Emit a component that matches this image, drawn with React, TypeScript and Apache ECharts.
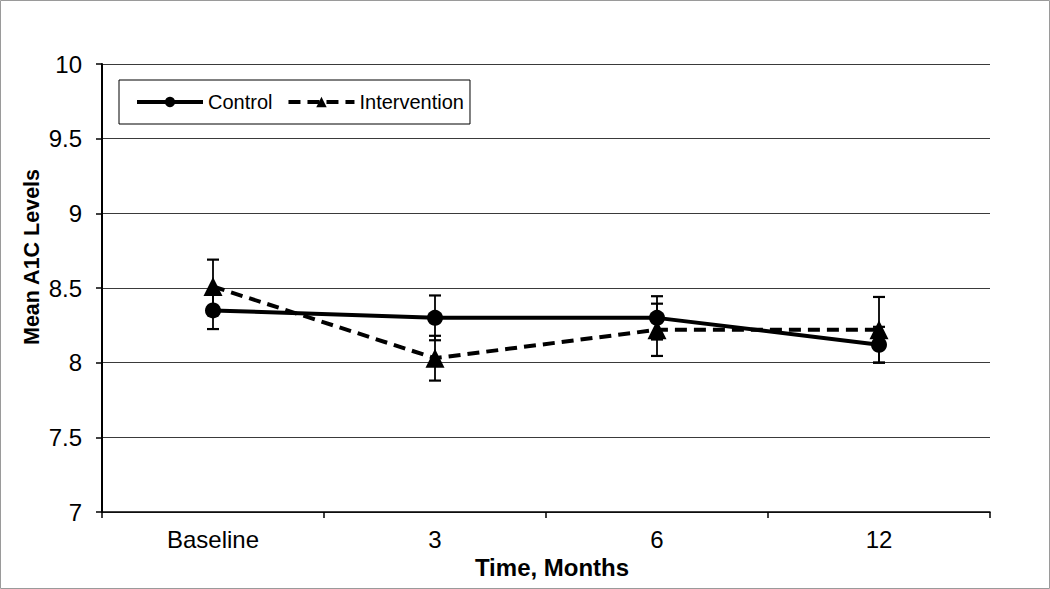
import React, { useEffect, useRef } from "react";
import * as echarts from "echarts";

const categories = ["Baseline", "3", "6", "12"];
const controlMeans = [8.35, 8.3, 8.3, 8.12];
const controlErr = [0.125, 0.15, 0.145, 0.12];
const interventionMeans = [8.51, 8.03, 8.22, 8.22];
const interventionErr = [0.18, 0.15, 0.175, 0.22];
const yTicks = { min: 7, max: 10, interval: 0.5 };

const FONT = "'Liberation Sans', Arial, sans-serif";

function errorSeries(name: string, means: number[], errs: number[]) {
  return {
    type: "custom",
    name: name + "-err",
    z: 1,
    silent: true,
    data: means.map((m, i) => [i, m - errs[i], m + errs[i]]),
    renderItem: (params: any, api: any) => {
      const i = api.value(0);
      const lo = api.coord([i, api.value(1)]);
      const hi = api.coord([i, api.value(2)]);
      const half = 6;
      return {
        type: "group",
        children: [
          { type: "line", shape: { x1: lo[0], y1: lo[1], x2: hi[0], y2: hi[1] }, style: { stroke: "#000", lineWidth: 1.8 } },
          { type: "line", shape: { x1: lo[0] - half, y1: lo[1], x2: lo[0] + half, y2: lo[1] }, style: { stroke: "#000", lineWidth: 2.2 } },
          { type: "line", shape: { x1: hi[0] - half, y1: hi[1], x2: hi[0] + half, y2: hi[1] }, style: { stroke: "#000", lineWidth: 2.2 } },
        ],
      };
    },
  };
}

export default function App() {
  const ref = useRef<HTMLDivElement>(null);
  useEffect(() => {
    if (!ref.current) return;
    const chart = echarts.init(ref.current, null, { renderer: "svg" });
    chart.setOption({
      animation: false,
      backgroundColor: "#fff",
      textStyle: { fontFamily: FONT },
      grid: { left: 102, right: 60, top: 64, bottom: 77, containLabel: false },
      legend: {
        left: 119,
        top: 80,
        orient: "horizontal",
        data: ["Control", "Intervention"],
        borderColor: "#000",
        borderWidth: 1,
        padding: [12, 6, 12, 16],
        itemWidth: 66,
        itemHeight: 13,
        itemGap: 14,
        lineStyle: { width: 4 },
        textStyle: { fontFamily: FONT, fontSize: 20, color: "#000" },
      },
      xAxis: {
        type: "category",
        data: categories,
        boundaryGap: true,
        axisLine: { lineStyle: { color: "#000", width: 1.5 } },
        axisTick: { show: true, length: 6, lineStyle: { color: "#000", width: 1.5 } },
        axisLabel: { fontFamily: FONT, fontSize: 24, color: "#000", margin: 15 },
        name: "Time, Months",
        nameLocation: "middle",
        nameGap: 38,
        nameTextStyle: { fontFamily: FONT, fontSize: 24, fontWeight: "bold", color: "#000", padding: [0, 0, 0, 12] },
      },
      yAxis: {
        type: "value",
        min: yTicks.min,
        max: yTicks.max,
        interval: yTicks.interval,
        axisLine: { show: true, lineStyle: { color: "#000", width: 2 } },
        axisTick: { show: true, length: 6, lineStyle: { color: "#000", width: 1.5 } },
        axisLabel: { fontFamily: FONT, fontSize: 24, color: "#000", margin: 20 },
        splitLine: { show: true, lineStyle: { color: "#3a3a3a", width: 1 } },
      },
      graphic: [
        {
          type: "rect",
          shape: { x: 0.5, y: 0.5, width: 1049, height: 588 },
          style: { fill: "none", stroke: "#9a9a9a", lineWidth: 1 },
          silent: true,
        },
        {
          type: "text",
          x: 32,
          y: 257,
          rotation: Math.PI / 2,
          style: {
            text: "Mean A1C Levels",
            font: "bold 21.5px " + FONT,
            fill: "#000",
            align: "center",
            verticalAlign: "middle",
          },
        },
      ],
      series: [
        errorSeries("Control", controlMeans, controlErr),
        errorSeries("Intervention", interventionMeans, interventionErr),
        {
          type: "line",
          name: "Control",
          data: controlMeans,
          z: 3,
          symbol: "circle",
          symbolSize: 16,
          itemStyle: { color: "#000" },
          lineStyle: { color: "#000", width: 4, type: "solid" },
        },
        {
          type: "line",
          name: "Intervention",
          data: interventionMeans,
          z: 3,
          symbol: "triangle",
          symbolSize: 19,
          itemStyle: { color: "#000" },
          lineStyle: { color: "#000", width: 4, type: [12, 7] },
        },
      ],
    });
    return () => chart.dispose();
  }, []);
  return (
    <div
      ref={ref}
      style={{ position: "fixed", left: 0, top: 0, width: 1050, height: 589 }}
    />
  );
}
